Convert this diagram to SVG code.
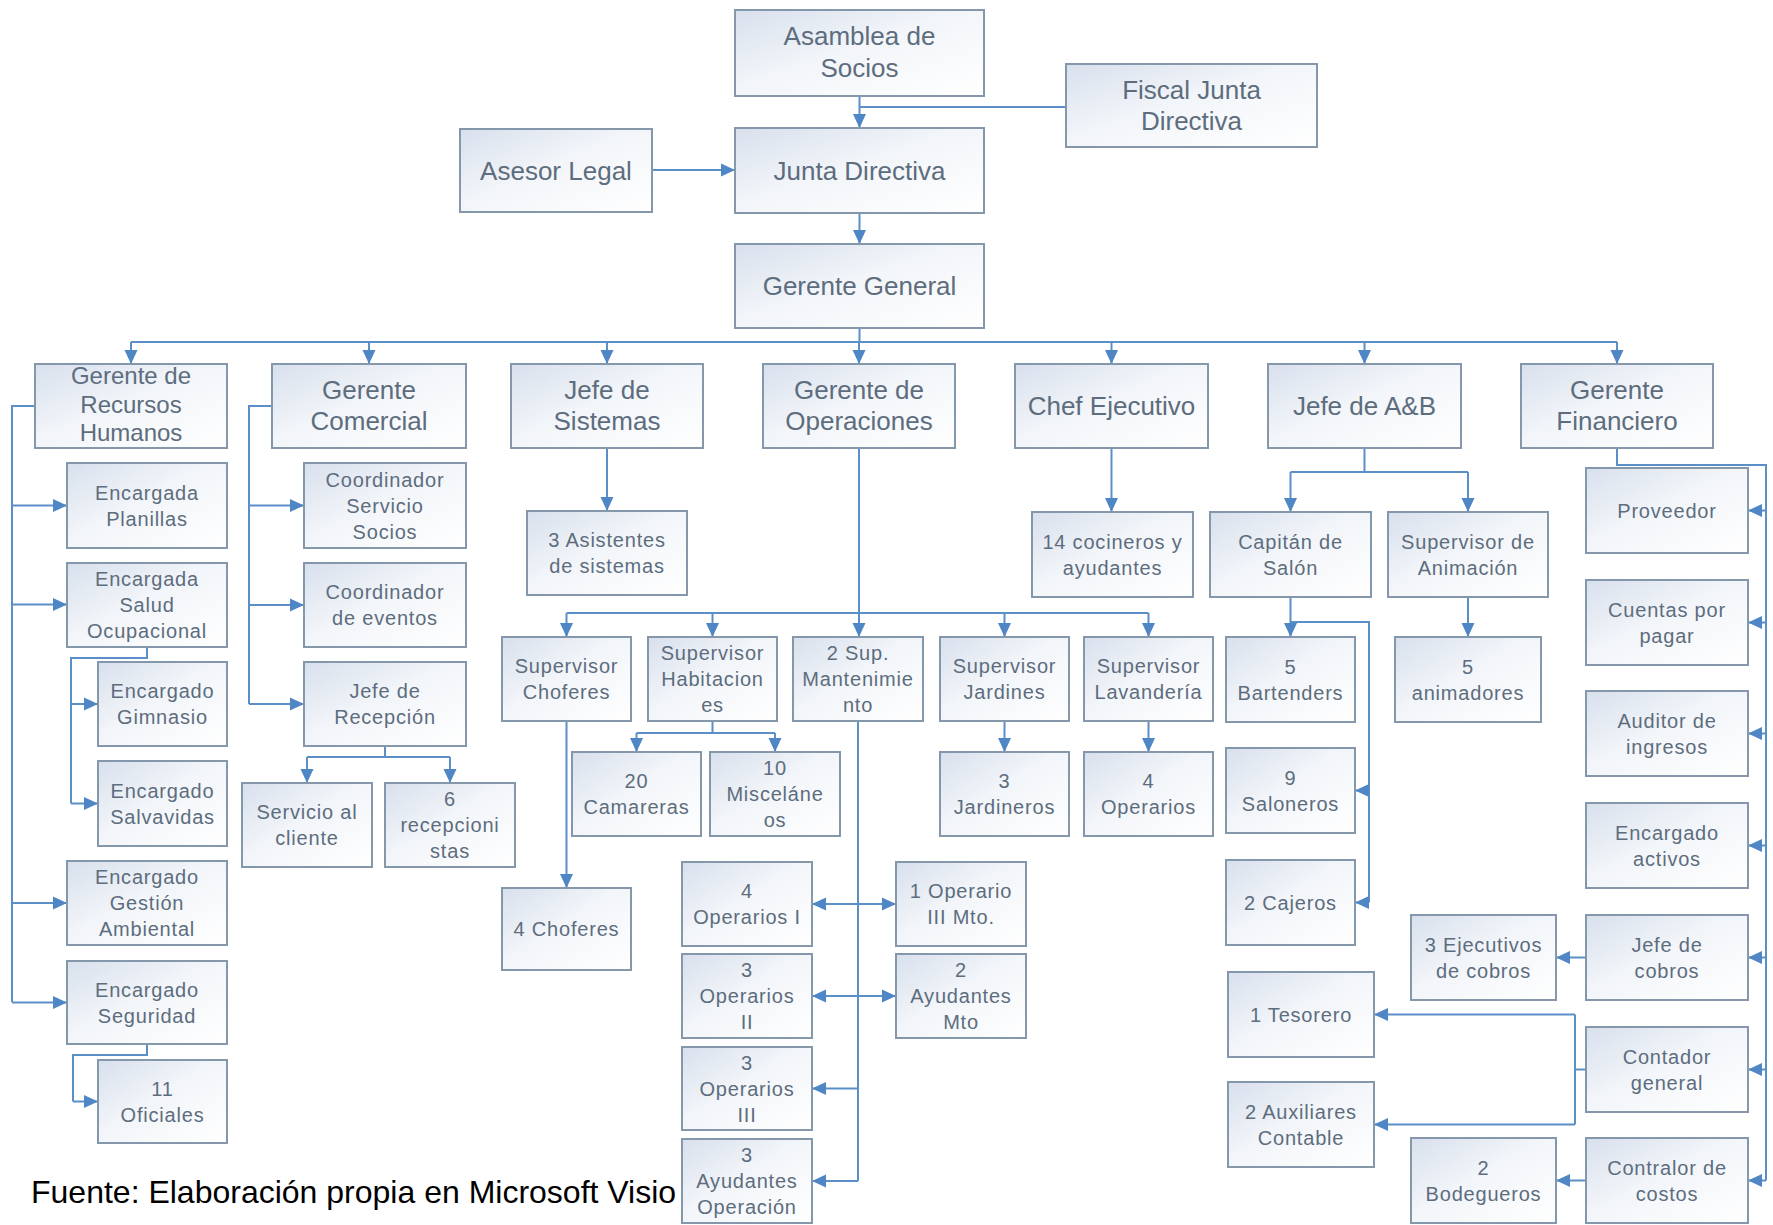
<svg xmlns="http://www.w3.org/2000/svg" width="1773" height="1225" viewBox="0 0 1773 1225">
<style>
.bx{fill:url(#nf);stroke:#8497ab;stroke-width:2}
.t{font-family:"Liberation Sans",Arial,sans-serif;fill:#5d6d7e;text-anchor:middle}
.big{font-size:26px}
.mid{font-size:24px}
.sm{font-size:20px;letter-spacing:0.8px}
.c{fill:none;stroke:#5b8fc7;stroke-width:2}
.a{marker-end:url(#ah)}
.d{marker-start:url(#ah);marker-end:url(#ah)}
</style>
<defs>
<linearGradient id="nf" x1="0" y1="0" x2="1" y2="1">
<stop offset="0" stop-color="#d8e0ed"/>
<stop offset="0.45" stop-color="#f2f5f9"/>
<stop offset="1" stop-color="#ffffff"/>
</linearGradient>
<marker id="ah" markerUnits="userSpaceOnUse" markerWidth="14" markerHeight="14" viewBox="0 0 14 14" refX="14" refY="7" orient="auto-start-reverse">
<path d="M0,0.5 L14,7 L0,13.5 z" fill="#4f86c6"/>
</marker>
</defs>
<rect width="1773" height="1225" fill="#ffffff"/>

<g id="connectors">
<path class="c a" d="M859.5,96 V128"/>
<path class="c" d="M1066,107 H859.5"/>
<path class="c a" d="M652,170 H735"/>
<path class="c a" d="M859.5,213 V244"/>
<path class="c" d="M859.5,328 V342 M131,342 H1617"/>
<path class="c a" d="M131,342 V364"/>
<path class="c a" d="M369,342 V364"/>
<path class="c a" d="M607,342 V364"/>
<path class="c a" d="M859,342 V364"/>
<path class="c a" d="M1111.5,342 V364"/>
<path class="c a" d="M1364.5,342 V364"/>
<path class="c a" d="M1617,342 V364"/>
<path class="c" d="M35,406 H12 V1002"/>
<path class="c a" d="M12,505.5 H67"/>
<path class="c a" d="M12,604.5 H67"/>
<path class="c a" d="M12,903 H67"/>
<path class="c a" d="M12,1002.5 H67"/>
<path class="c" d="M147,647 V658 H71 V803.5"/>
<path class="c a" d="M71,704 H98"/>
<path class="c a" d="M71,803.5 H98"/>
<path class="c" d="M147,1044 V1055 H73 V1101.5"/>
<path class="c a" d="M73,1101.5 H98"/>
<path class="c" d="M272,406 H249 V704"/>
<path class="c a" d="M249,505.5 H304"/>
<path class="c a" d="M249,605 H304"/>
<path class="c a" d="M249,704 H304"/>
<path class="c" d="M385,746 V757 M307,757 H450"/>
<path class="c a" d="M307,757 V783"/>
<path class="c a" d="M450,757 V783"/>
<path class="c a" d="M607,448 V511"/>
<path class="c a" d="M859,448 V637"/>
<path class="c" d="M566.5,613 H1148.5"/>
<path class="c a" d="M566.5,613 V637"/>
<path class="c a" d="M712.5,613 V637"/>
<path class="c a" d="M1004.5,613 V637"/>
<path class="c a" d="M1148.5,613 V637"/>
<path class="c" d="M712.5,721 V733 M636.5,733 H775"/>
<path class="c a" d="M636.5,733 V752"/>
<path class="c a" d="M775,733 V752"/>
<path class="c a" d="M566.5,721 V888"/>
<path class="c" d="M858,721 V1181"/>
<path class="c d" d="M812,904 H896"/>
<path class="c d" d="M812,996 H896"/>
<path class="c a" d="M858,1088.5 H812"/>
<path class="c a" d="M858,1181 H812"/>
<path class="c a" d="M1004.5,721 V752"/>
<path class="c a" d="M1148.5,721 V752"/>
<path class="c a" d="M1111.5,448 V512"/>
<path class="c" d="M1364.5,448 V472 M1290.5,472 H1468"/>
<path class="c a" d="M1290.5,472 V512"/>
<path class="c a" d="M1468,472 V512"/>
<path class="c a" d="M1290.5,597 V637"/>
<path class="c" d="M1290.5,622 H1369 V902.5"/>
<path class="c a" d="M1369,790.5 H1355"/>
<path class="c a" d="M1369,902.5 H1355"/>
<path class="c a" d="M1468,597 V637"/>
<path class="c" d="M1617,448 V465 H1766 V1180.5"/>
<path class="c a" d="M1766,510.5 H1748"/>
<path class="c a" d="M1766,622.5 H1748"/>
<path class="c a" d="M1766,733.5 H1748"/>
<path class="c a" d="M1766,845.5 H1748"/>
<path class="c a" d="M1766,957.5 H1748"/>
<path class="c a" d="M1766,1069.5 H1748"/>
<path class="c a" d="M1766,1180.5 H1748"/>
<path class="c a" d="M1586,957.5 H1556"/>
<path class="c" d="M1586,1069.5 H1575 M1575,1014.5 V1124.5"/>
<path class="c a" d="M1575,1014.5 H1374"/>
<path class="c a" d="M1575,1124.5 H1374"/>
<path class="c a" d="M1586,1180.5 H1556"/>
</g>

<g id="asamblea"><rect class="bx" x="735" y="10" width="249" height="86"/><text class="t big"><tspan x="859.5" y="45">Asamblea de</tspan><tspan x="859.5" y="77">Socios</tspan></text></g>
<g id="fiscal"><rect class="bx" x="1066" y="64" width="251" height="83"/><text class="t big"><tspan x="1191.5" y="99">Fiscal Junta</tspan><tspan x="1191.5" y="130">Directiva</tspan></text></g>
<g id="asesor"><rect class="bx" x="460" y="129" width="192" height="83"/><text class="t big" x="556" y="179.5">Asesor Legal</text></g>
<g id="junta"><rect class="bx" x="735" y="128" width="249" height="85"/><text class="t big" x="859.5" y="179.5">Junta Directiva</text></g>
<g id="gerente-general"><rect class="bx" x="735" y="244" width="249" height="84"/><text class="t big" x="859.5" y="295">Gerente General</text></g>

<g id="rrhh"><rect class="bx" x="35" y="364" width="192" height="84"/><text class="t mid"><tspan x="131" y="384">Gerente de</tspan><tspan x="131" y="413">Recursos</tspan><tspan x="131" y="441">Humanos</tspan></text></g>
<g id="comercial"><rect class="bx" x="272" y="364" width="194" height="84"/><text class="t big"><tspan x="369" y="399">Gerente</tspan><tspan x="369" y="430">Comercial</tspan></text></g>
<g id="sistemas"><rect class="bx" x="511" y="364" width="192" height="84"/><text class="t big"><tspan x="607" y="399">Jefe de</tspan><tspan x="607" y="430">Sistemas</tspan></text></g>
<g id="operaciones"><rect class="bx" x="763" y="364" width="192" height="84"/><text class="t big"><tspan x="859" y="399">Gerente de</tspan><tspan x="859" y="430">Operaciones</tspan></text></g>
<g id="chef"><rect class="bx" x="1015" y="364" width="193" height="84"/><text class="t big" x="1111.5" y="415">Chef Ejecutivo</text></g>
<g id="ayb"><rect class="bx" x="1268" y="364" width="193" height="84"/><text class="t big" x="1364.5" y="415">Jefe de A&amp;B</text></g>
<g id="financiero"><rect class="bx" x="1521" y="364" width="192" height="84"/><text class="t big"><tspan x="1617" y="399">Gerente</tspan><tspan x="1617" y="430">Financiero</tspan></text></g>

<g id="planillas"><rect class="bx" x="67" y="463" width="160" height="85"/><text class="t sm"><tspan x="147" y="499.5">Encargada</tspan><tspan x="147" y="525.5">Planillas</tspan></text></g>
<g id="salud"><rect class="bx" x="67" y="563" width="160" height="84"/><text class="t sm"><tspan x="147" y="585.5">Encargada</tspan><tspan x="147" y="611.5">Salud</tspan><tspan x="147" y="637.5">Ocupacional</tspan></text></g>
<g id="gimnasio"><rect class="bx" x="98" y="662" width="129" height="84"/><text class="t sm"><tspan x="162.5" y="698">Encargado</tspan><tspan x="162.5" y="724">Gimnasio</tspan></text></g>
<g id="salvavidas"><rect class="bx" x="98" y="761" width="129" height="85"/><text class="t sm"><tspan x="162.5" y="797.5">Encargado</tspan><tspan x="162.5" y="823.5">Salvavidas</tspan></text></g>
<g id="gestion"><rect class="bx" x="67" y="861" width="160" height="84"/><text class="t sm"><tspan x="147" y="884">Encargado</tspan><tspan x="147" y="910">Gestión</tspan><tspan x="147" y="936">Ambiental</tspan></text></g>
<g id="seguridad"><rect class="bx" x="67" y="961" width="160" height="83"/><text class="t sm"><tspan x="147" y="996.5">Encargado</tspan><tspan x="147" y="1022.5">Seguridad</tspan></text></g>
<g id="oficiales"><rect class="bx" x="98" y="1060" width="129" height="83"/><text class="t sm"><tspan x="162.5" y="1095.5">11</tspan><tspan x="162.5" y="1121.5">Oficiales</tspan></text></g>

<g id="servicio-socios"><rect class="bx" x="304" y="463" width="162" height="85"/><text class="t sm"><tspan x="385" y="486.5">Coordinador</tspan><tspan x="385" y="512.5">Servicio</tspan><tspan x="385" y="538.5">Socios</tspan></text></g>
<g id="eventos"><rect class="bx" x="304" y="563" width="162" height="84"/><text class="t sm"><tspan x="385" y="599">Coordinador</tspan><tspan x="385" y="625">de eventos</tspan></text></g>
<g id="recepcion"><rect class="bx" x="304" y="662" width="162" height="84"/><text class="t sm"><tspan x="385" y="698">Jefe de</tspan><tspan x="385" y="724">Recepción</tspan></text></g>
<g id="servicio-cliente"><rect class="bx" x="242" y="783" width="130" height="84"/><text class="t sm"><tspan x="307" y="819">Servicio al</tspan><tspan x="307" y="845">cliente</tspan></text></g>
<g id="recepcionistas"><rect class="bx" x="385" y="783" width="130" height="84"/><text class="t sm"><tspan x="450" y="806">6</tspan><tspan x="450" y="832">recepcioni</tspan><tspan x="450" y="858">stas</tspan></text></g>

<g id="asistentes"><rect class="bx" x="527" y="511" width="160" height="84"/><text class="t sm"><tspan x="607" y="547">3 Asistentes</tspan><tspan x="607" y="573">de sistemas</tspan></text></g>

<g id="sup-choferes"><rect class="bx" x="502" y="637" width="129" height="84"/><text class="t sm"><tspan x="566.5" y="673">Supervisor</tspan><tspan x="566.5" y="699">Choferes</tspan></text></g>
<g id="sup-habitaciones"><rect class="bx" x="648" y="637" width="129" height="84"/><text class="t sm"><tspan x="712.5" y="660">Supervisor</tspan><tspan x="712.5" y="686">Habitacion</tspan><tspan x="712.5" y="712">es</tspan></text></g>
<g id="sup-mantenimiento"><rect class="bx" x="793" y="637" width="130" height="84"/><text class="t sm"><tspan x="858" y="660">2 Sup.</tspan><tspan x="858" y="686">Mantenimie</tspan><tspan x="858" y="712">nto</tspan></text></g>
<g id="sup-jardines"><rect class="bx" x="940" y="637" width="129" height="84"/><text class="t sm"><tspan x="1004.5" y="673">Supervisor</tspan><tspan x="1004.5" y="699">Jardines</tspan></text></g>
<g id="sup-lavanderia"><rect class="bx" x="1084" y="637" width="129" height="84"/><text class="t sm"><tspan x="1148.5" y="673">Supervisor</tspan><tspan x="1148.5" y="699">Lavandería</tspan></text></g>

<g id="camareras"><rect class="bx" x="572" y="752" width="129" height="84"/><text class="t sm"><tspan x="636.5" y="788">20</tspan><tspan x="636.5" y="814">Camareras</tspan></text></g>
<g id="miscelaneos"><rect class="bx" x="710" y="752" width="130" height="84"/><text class="t sm"><tspan x="775" y="775">10</tspan><tspan x="775" y="801">Misceláne</tspan><tspan x="775" y="827">os</tspan></text></g>
<g id="jardineros"><rect class="bx" x="940" y="752" width="129" height="84"/><text class="t sm"><tspan x="1004.5" y="788">3</tspan><tspan x="1004.5" y="814">Jardineros</tspan></text></g>
<g id="operarios-lav"><rect class="bx" x="1084" y="752" width="129" height="84"/><text class="t sm"><tspan x="1148.5" y="788">4</tspan><tspan x="1148.5" y="814">Operarios</tspan></text></g>
<g id="choferes"><rect class="bx" x="502" y="888" width="129" height="82"/><text class="t sm" x="566.5" y="936">4 Choferes</text></g>

<g id="operarios-i"><rect class="bx" x="682" y="862" width="130" height="84"/><text class="t sm"><tspan x="747" y="898">4</tspan><tspan x="747" y="924">Operarios I</tspan></text></g>
<g id="operario-iii-mto"><rect class="bx" x="896" y="862" width="130" height="84"/><text class="t sm"><tspan x="961" y="898">1 Operario</tspan><tspan x="961" y="924">III Mto.</tspan></text></g>
<g id="operarios-ii"><rect class="bx" x="682" y="954" width="130" height="84"/><text class="t sm"><tspan x="747" y="977">3</tspan><tspan x="747" y="1003">Operarios</tspan><tspan x="747" y="1029">II</tspan></text></g>
<g id="ayudantes-mto"><rect class="bx" x="896" y="954" width="130" height="84"/><text class="t sm"><tspan x="961" y="977">2</tspan><tspan x="961" y="1003">Ayudantes</tspan><tspan x="961" y="1029">Mto</tspan></text></g>
<g id="operarios-iii"><rect class="bx" x="682" y="1047" width="130" height="83"/><text class="t sm"><tspan x="747" y="1069.5">3</tspan><tspan x="747" y="1095.5">Operarios</tspan><tspan x="747" y="1121.5">III</tspan></text></g>
<g id="ayudantes-op"><rect class="bx" x="682" y="1139" width="130" height="84"/><text class="t sm"><tspan x="747" y="1162">3</tspan><tspan x="747" y="1188">Ayudantes</tspan><tspan x="747" y="1214">Operación</tspan></text></g>

<g id="cocineros"><rect class="bx" x="1032" y="512" width="161" height="85"/><text class="t sm"><tspan x="1112.5" y="548.5">14 cocineros y</tspan><tspan x="1112.5" y="574.5">ayudantes</tspan></text></g>
<g id="capitan"><rect class="bx" x="1210" y="512" width="161" height="85"/><text class="t sm"><tspan x="1290.5" y="548.5">Capitán de</tspan><tspan x="1290.5" y="574.5">Salón</tspan></text></g>
<g id="animacion"><rect class="bx" x="1388" y="512" width="160" height="85"/><text class="t sm"><tspan x="1468" y="548.5">Supervisor de</tspan><tspan x="1468" y="574.5">Animación</tspan></text></g>
<g id="bartenders"><rect class="bx" x="1226" y="637" width="129" height="85"/><text class="t sm"><tspan x="1290.5" y="673.5">5</tspan><tspan x="1290.5" y="699.5">Bartenders</tspan></text></g>
<g id="saloneros"><rect class="bx" x="1226" y="748" width="129" height="85"/><text class="t sm"><tspan x="1290.5" y="784.5">9</tspan><tspan x="1290.5" y="810.5">Saloneros</tspan></text></g>
<g id="cajeros"><rect class="bx" x="1226" y="860" width="129" height="85"/><text class="t sm" x="1290.5" y="909.5">2 Cajeros</text></g>
<g id="animadores"><rect class="bx" x="1395" y="637" width="146" height="85"/><text class="t sm"><tspan x="1468" y="673.5">5</tspan><tspan x="1468" y="699.5">animadores</tspan></text></g>

<g id="proveedor"><rect class="bx" x="1586" y="468" width="162" height="85"/><text class="t sm" x="1667" y="517.5">Proveedor</text></g>
<g id="cuentas"><rect class="bx" x="1586" y="580" width="162" height="85"/><text class="t sm"><tspan x="1667" y="616.5">Cuentas por</tspan><tspan x="1667" y="642.5">pagar</tspan></text></g>
<g id="auditor"><rect class="bx" x="1586" y="691" width="162" height="85"/><text class="t sm"><tspan x="1667" y="727.5">Auditor de</tspan><tspan x="1667" y="753.5">ingresos</tspan></text></g>
<g id="activos"><rect class="bx" x="1586" y="803" width="162" height="85"/><text class="t sm"><tspan x="1667" y="839.5">Encargado</tspan><tspan x="1667" y="865.5">activos</tspan></text></g>
<g id="jefe-cobros"><rect class="bx" x="1586" y="915" width="162" height="85"/><text class="t sm"><tspan x="1667" y="951.5">Jefe de</tspan><tspan x="1667" y="977.5">cobros</tspan></text></g>
<g id="contador"><rect class="bx" x="1586" y="1027" width="162" height="85"/><text class="t sm"><tspan x="1667" y="1063.5">Contador</tspan><tspan x="1667" y="1089.5">general</tspan></text></g>
<g id="contralor"><rect class="bx" x="1586" y="1138" width="162" height="85"/><text class="t sm"><tspan x="1667" y="1174.5">Contralor de</tspan><tspan x="1667" y="1200.5">costos</tspan></text></g>
<g id="ejecutivos"><rect class="bx" x="1411" y="915" width="145" height="85"/><text class="t sm"><tspan x="1483.5" y="951.5">3 Ejecutivos</tspan><tspan x="1483.5" y="977.5">de cobros</tspan></text></g>
<g id="tesorero"><rect class="bx" x="1228" y="972" width="146" height="85"/><text class="t sm" x="1301" y="1021.5">1 Tesorero</text></g>
<g id="auxiliares"><rect class="bx" x="1228" y="1082" width="146" height="85"/><text class="t sm"><tspan x="1301" y="1118.5">2 Auxiliares</tspan><tspan x="1301" y="1144.5">Contable</tspan></text></g>
<g id="bodegueros"><rect class="bx" x="1411" y="1138" width="145" height="85"/><text class="t sm"><tspan x="1483.5" y="1174.5">2</tspan><tspan x="1483.5" y="1200.5">Bodegueros</tspan></text></g>

<text x="31" y="1203" font-family="&quot;Liberation Sans&quot;, Arial, sans-serif" font-size="32" fill="#000000">Fuente: Elaboración propia en Microsoft Visio</text>
</svg>
